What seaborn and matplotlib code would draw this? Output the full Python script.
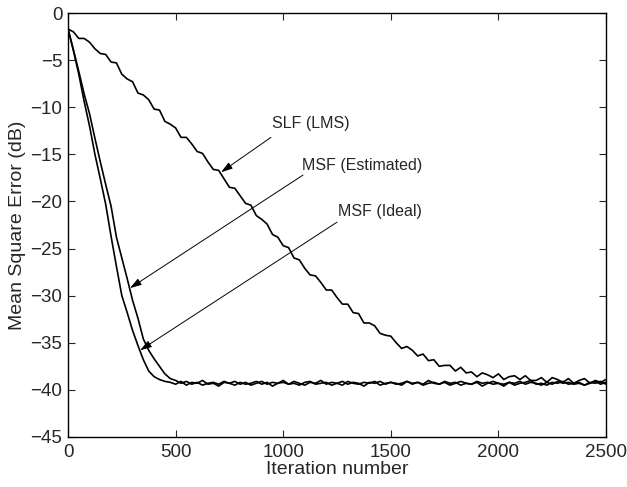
import numpy as np
import pandas as pd
import matplotlib
matplotlib.use("Agg")
import matplotlib.pyplot as plt
import seaborn as sns

# iteration grid (every 25th sample)
iterations = np.arange(0, 2501, 25)

slf_lms = [
    -1.7, -2.0, -2.7, -2.7, -3.1, -3.8, -4.3, -4.4, -5.2, -5.3,
    -6.5, -7.0, -7.3, -8.5, -8.7, -9.2, -10.2, -10.3, -11.5, -11.8,
    -12.2, -13.2, -13.2, -13.9, -14.7, -14.9, -15.8, -16.6, -16.7, -17.6,
    -18.5, -18.6, -19.4, -20.2, -20.4, -21.5, -21.9, -22.4, -23.5, -23.8,
    -24.7, -24.9, -26.0, -26.2, -27.1, -27.8, -27.9, -28.6, -29.4, -29.4,
    -30.2, -30.9, -30.9, -31.8, -31.9, -32.9, -32.9, -33.2, -34.0, -34.2,
    -34.3, -35.0, -35.6, -35.4, -35.8, -36.4, -36.2, -36.9, -36.8, -37.5,
    -37.4, -37.4, -38.0, -37.6, -38.2, -38.1, -38.6, -38.2, -38.4, -38.7,
    -38.3, -38.9, -38.6, -38.5, -38.9, -38.5, -39.0, -39.0, -38.7, -39.2,
    -38.7, -38.9, -39.2, -38.8, -39.3, -39.0, -38.8, -39.3, -39.0, -39.2,
    -38.9,
]

msf_ideal = [
    -1.7, -4.0, -6.5, -9.4, -12.0, -15.0, -17.6, -20.3, -23.7, -26.9,
    -30.0, -31.8, -33.7, -35.3, -36.8, -38.0, -38.6, -38.9, -39.1,
    -39.2, -39.4, -39.1, -39.5, -39.2, -39.3, -39.0, -39.4, -39.3, -39.6,
    -39.2, -39.3, -39.1, -39.4, -39.2, -39.5, -39.3, -39.1, -39.4, -39.2,
    -39.3, -39.0, -39.4, -39.3, -39.5, -39.2, -39.1, -39.4, -39.3, -39.2,
    -39.5, -39.3, -39.1, -39.4, -39.2, -39.3, -39.6, -39.2, -39.3, -39.1,
    -39.4, -39.2, -39.3, -39.5, -39.1, -39.3, -39.2, -39.4, -39.0, -39.3,
    -39.4, -39.2, -39.5, -39.3, -39.1, -39.3, -39.4, -39.2, -39.6, -39.3,
    -39.1, -39.3, -39.4, -39.2, -39.5, -39.3, -39.2, -39.0, -39.4, -39.3,
    -39.5, -39.2, -39.3, -39.1, -39.4, -39.3, -39.2, -39.5, -39.3, -39.1,
    -39.4, -39.2,
]

msf_estimated = [
    -1.7, -3.9, -6.2, -8.6, -10.7, -13.3, -15.8, -18.2, -20.5, -23.8,
    -26.0, -28.2, -30.5, -32.4, -34.6, -35.8, -36.7, -37.5, -38.3, -38.8,
    -39.0,
    -39.3, -39.1, -39.4, -39.2, -39.5, -39.3, -39.2, -39.4, -39.1, -39.3,
    -39.5, -39.2, -39.4, -39.3, -39.1, -39.4, -39.2, -39.6, -39.3, -39.2,
    -39.4, -39.1, -39.3, -39.5, -39.2, -39.3, -39.0, -39.4, -39.2, -39.3,
    -39.5, -39.1, -39.3, -39.4, -39.2, -39.3, -39.1, -39.5, -39.3, -39.2,
    -39.4, -39.3, -39.1, -39.4, -39.2, -39.5, -39.3, -39.2, -39.4, -39.1,
    -39.3, -39.2, -39.5, -39.3, -39.4, -39.1, -39.3, -39.2, -39.4, -39.3,
    -39.6, -39.2, -39.3, -39.1, -39.4, -39.2, -39.3, -39.5, -39.2, -39.4,
    -39.1, -39.3, -39.2, -39.4, -39.3, -39.5, -39.2, -39.3, -39.1, -39.4,
]

# annotations: label, text position, arrow start, arrow tip (data coords)
labels = ["SLF (LMS)", "MSF (Estimated)", "MSF (Ideal)"]
text_xy = [(948, -11.7), (1087, -16.2), (1255, -21.1)]
arrow_from = [(943, -13.2), (1092, -17.2), (1250, -22.2)]
arrow_to = [(711, -16.9), (288, -29.2), (335, -35.8)]

df = pd.DataFrame({
    "iter": np.tile(iterations, 3),
    "mse": slf_lms + msf_ideal + msf_estimated,
    "curve": ["SLF"] * 101 + ["Ideal"] * 101 + ["Estimated"] * 101,
})

sns.set_style("ticks")
plt.rcParams["font.family"] = ["Liberation Sans", "DejaVu Sans"]

fig = plt.figure(figsize=(6.27, 4.87), dpi=100)
ax = fig.add_axes([0.1085, 0.1027, 0.858, 0.8706])
sns.lineplot(data=df, x="iter", y="mse", hue="curve",
             palette=["black"] * 3, linewidth=1.2, legend=False,
             ax=ax, estimator=None)

for lab, txy, a0, a1 in zip(labels, text_xy, arrow_from, arrow_to):
    ax.text(txy[0], txy[1], lab, fontsize=11.5, ha="left", va="center")
    ax.annotate("", xy=a1, xytext=a0,
                arrowprops=dict(arrowstyle="-|>,head_length=0.7,head_width=0.22",
                                color="black", lw=0.7, shrinkA=0, shrinkB=0))

ax.set_xlim(0, 2500)
ax.set_ylim(-45, 0)
ax.set_xticks([0, 500, 1000, 1500, 2000, 2500])
ax.set_yticks(np.arange(-45, 1, 5))
ax.set_xlabel("Iteration number", fontsize=14, labelpad=0)
ax.set_ylabel("Mean Square Error (dB)", fontsize=14, labelpad=3)
ax.tick_params(direction="in", top=True, right=True, labelsize=13.5,
               length=5, width=0.8)
ax.tick_params(axis="x", pad=5)
ax.tick_params(axis="y", pad=4)
for s in ax.spines.values():
    s.set_linewidth(1.0)
    s.set_color("black")

fig.savefig("out.png", dpi=100)
